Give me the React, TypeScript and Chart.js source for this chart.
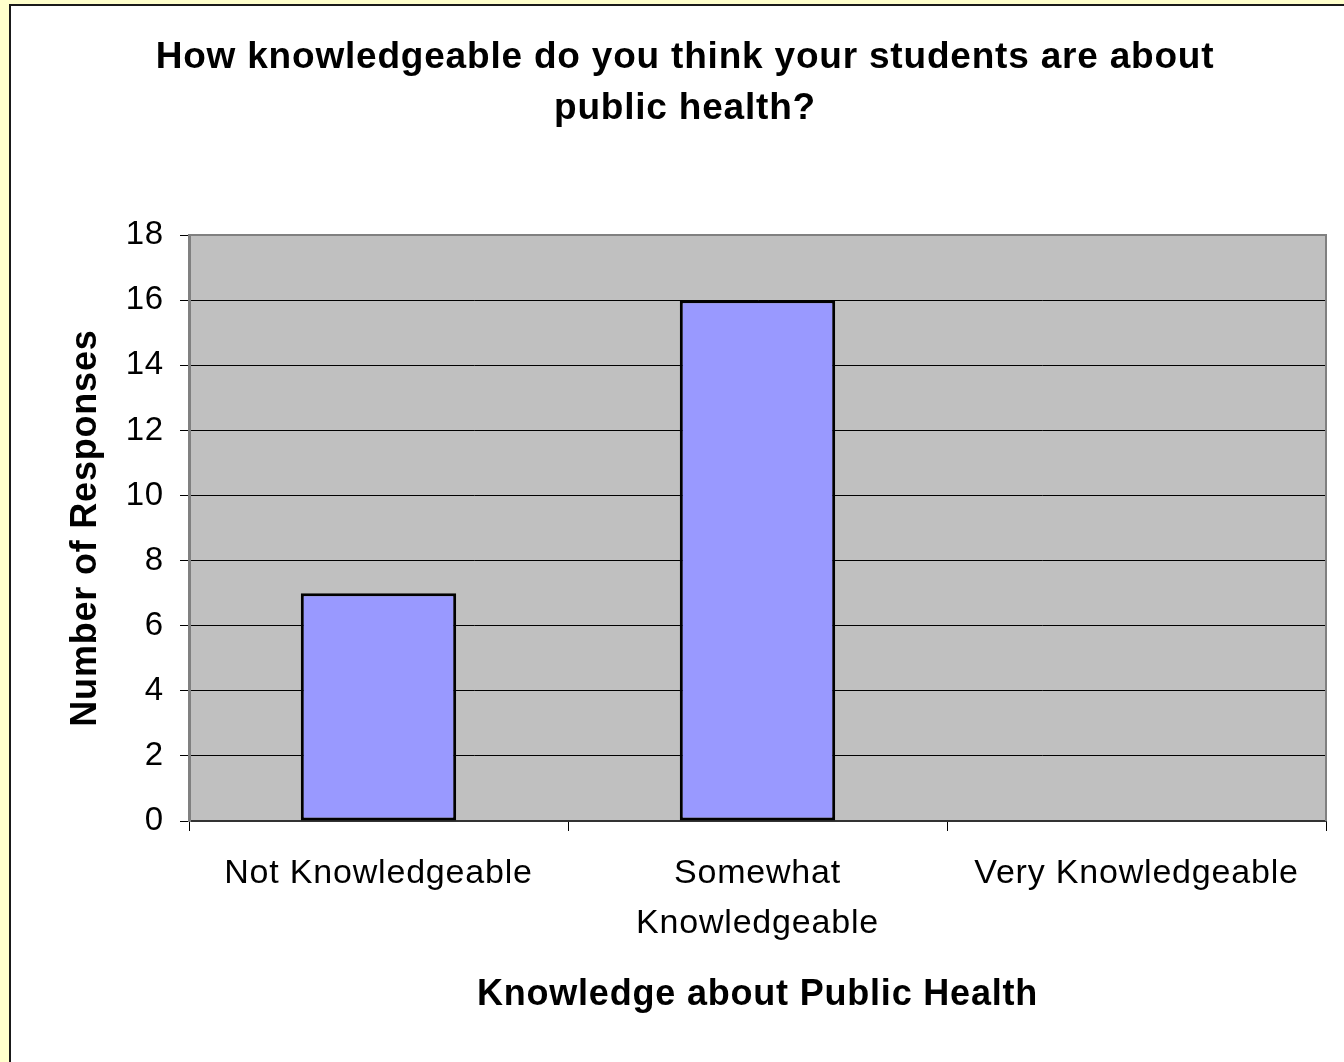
import React, { useEffect, useRef } from 'react';
import { Chart, registerables } from 'chart.js';

Chart.register(...registerables);

const categories: string[][] = [['Not Knowledgeable'], ['Somewhat', 'Knowledgeable'], ['Very Knowledgeable']];
const responses: number[] = [7, 16, 0];
const yMin = 0;
const yMax = 18;
const yStep = 2;
const chartTitle: string[] = ['How knowledgeable do you think your students are about', 'public health?'];
const xAxisTitle = 'Knowledge about Public Health';
const yAxisTitle = 'Number of Responses';

const FONT = '"Liberation Sans", Arial, Helvetica, sans-serif';
const SPACING = '0.8px';

const decorPlugin = {
  id: 'decor',
  beforeUpdate(chart: any) {
    chart.ctx.letterSpacing = SPACING;
  },
  beforeDraw(chart: any) {
    const { ctx, chartArea: a, width, height } = chart;
    ctx.save();
    ctx.fillStyle = '#FFFFCC';
    ctx.fillRect(0, 0, width, height);
    ctx.fillStyle = '#FFFFFF';
    ctx.fillRect(10, 5, width - 10, height - 5);
    ctx.fillStyle = '#1a1a1a';
    ctx.fillRect(9, 4, 2, height - 4);
    ctx.fillRect(9, 4, width - 9, 2);
    ctx.fillStyle = '#C0C0C0';
    ctx.fillRect(a.left, a.top, a.right - a.left, a.bottom - a.top);
    ctx.restore();
    ctx.letterSpacing = SPACING;
  },
  afterDatasetsDraw(chart: any) {
    const { ctx, chartArea: a } = chart;
    ctx.save();
    ctx.strokeStyle = '#808080';
    ctx.lineWidth = 2;
    ctx.beginPath();
    ctx.moveTo(a.left, a.top);
    ctx.lineTo(a.right, a.top);
    ctx.lineTo(a.right, a.bottom);
    ctx.stroke();
    ctx.restore();
  },
};

export default function App() {
  const ref = useRef<HTMLCanvasElement | null>(null);

  useEffect(() => {
    const canvas = ref.current;
    if (!canvas) return;
    canvas.getContext('2d')!.letterSpacing = SPACING;
    const chart = new Chart(canvas, {
      type: 'bar',
      data: {
        labels: categories,
        datasets: [
          {
            label: yAxisTitle,
            data: responses,
            backgroundColor: '#9999FF',
            borderColor: '#000000',
            borderWidth: 3,
            borderSkipped: false,
            categoryPercentage: 1,
            barPercentage: 0.41,
          },
        ],
      },
      options: {
        responsive: false,
        animation: false,
        devicePixelRatio: 1,
        layout: { padding: { left: 44, right: 18, top: 6, bottom: 0 } },
        plugins: {
          legend: { display: false },
          tooltip: { enabled: false },
          title: {
            display: true,
            text: chartTitle,
            color: '#000000',
            font: { family: FONT, size: 37, weight: 'bold', lineHeight: 1.38 },
            padding: { top: 26, bottom: 101 },
          },
        },
        scales: {
          x: {
            grid: {
              display: true,
              drawOnChartArea: false,
              drawTicks: true,
              tickLength: 10,
              color: '#000000',
              lineWidth: 1,
              offset: true,
            },
            border: { display: true, color: '#333333', width: 2 },
            ticks: {
              color: '#000000',
              padding: 18,
              maxRotation: 0,
              autoSkip: false,
              font: { family: FONT, size: 34, lineHeight: 1.47 },
            },
            title: {
              display: true,
              text: xAxisTitle,
              color: '#000000',
              font: { family: FONT, size: 36, weight: 'bold', lineHeight: 1.2 },
              padding: { top: 0, bottom: 45 },
            },
            afterFit(scale: any) {
              scale.height = 241;
            },
          },
          y: {
            min: yMin,
            max: yMax,
            ticks: {
              stepSize: yStep,
              color: '#000000',
              padding: 16,
              font: { family: FONT, size: 33 },
            },
            grid: {
              color: '#000000',
              lineWidth: 1,
              drawTicks: true,
              tickLength: 9,
            },
            border: { display: true, color: '#808080', width: 3 },
            title: {
              display: true,
              text: yAxisTitle,
              color: '#000000',
              font: { family: FONT, size: 36, weight: 'bold', lineHeight: 1.2 },
              padding: { top: 20, bottom: 0 },
            },
            afterFit(scale: any) {
              scale.width = 145;
            },
          },
        },
      },
      plugins: [decorPlugin],
    });
    return () => chart.destroy();
  }, []);

  return (
    <div style={{ position: 'fixed', left: 0, top: 0, width: 1344, height: 1062, overflow: 'hidden', background: '#FFFFCC' }}>
      <canvas ref={ref} width={1344} height={1062} style={{ display: 'block', width: 1344, height: 1062 }} />
    </div>
  );
}
